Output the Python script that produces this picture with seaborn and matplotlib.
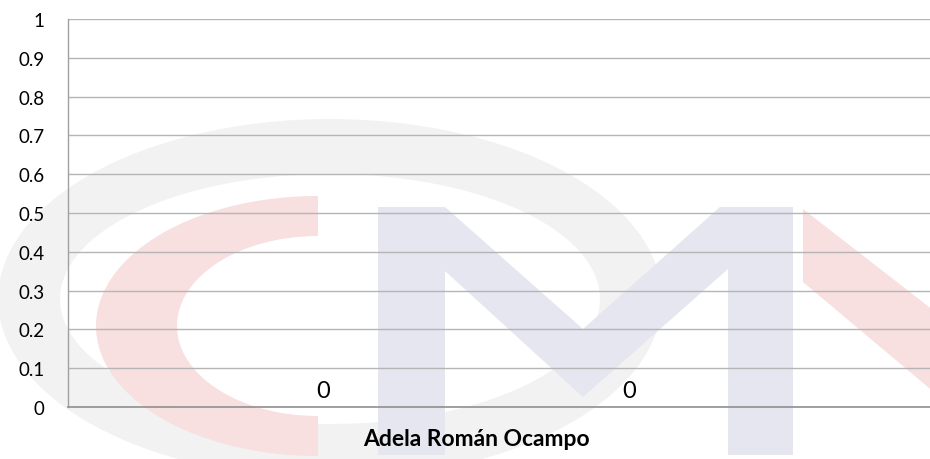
import numpy as np
import pandas as pd
import matplotlib
matplotlib.use("Agg")
import matplotlib.pyplot as plt
from matplotlib.patches import Polygon
import seaborn as sns

# datos de la grafica
candidatos = ["Adela Román Ocampo"]
series = ["Serie 1", "Serie 2"]
valores = [0, 0]
yticks = [0, 0.1, 0.2, 0.3, 0.4, 0.5, 0.6, 0.7, 0.8, 0.9, 1]

df = pd.DataFrame({
    "candidato": candidatos * len(series),
    "serie": series,
    "votos": valores,
})

sns.set_theme(style="whitegrid")
plt.rcParams['font.family'] = ['Lato', 'DejaVu Sans']

fig = plt.figure(figsize=(9.3, 4.6), dpi=100)
fig.patch.set_facecolor("white")


# marca de agua (logo CM) en coordenadas de pixel
def anillo(cx, cy, a1, b1, a2, b2, t0, t1):
    t = np.radians(np.linspace(t0, t1, 120))
    ext = np.column_stack([cx + a1 * np.cos(t), cy - b1 * np.sin(t)])
    intr = np.column_stack([cx + a2 * np.cos(t[::-1]), cy - b2 * np.sin(t[::-1])])
    return np.vstack([ext, intr])

bg = fig.add_axes([0, 0, 1, 1], zorder=0)
bg.set_xlim(0, 930)
bg.set_ylim(460, 0)
bg.axis("off")
bg.add_patch(Polygon(anillo(330, 300, 332, 180, 270, 125, 0, 360), closed=True,
                     facecolor="#f2f2f2", edgecolor="none"))
bg.add_patch(Polygon(anillo(318, 327, 222, 130, 141, 90, 90, 270), closed=True,
                     facecolor="#f8dfe0", edgecolor="none"))
m_pts = [(378, 456), (378, 208), (445, 208), (583, 330), (720, 208), (793, 208),
         (793, 456), (728, 456), (728, 270), (583, 398), (445, 272), (445, 456)]
bg.add_patch(Polygon(m_pts, closed=True, facecolor="#e5e6ef", edgecolor="none"))
bg.add_patch(Polygon([(803, 210), (803, 283), (960, 415), (960, 332)], closed=True,
                     facecolor="#f8dfe0", edgecolor="none"))

ax = fig.add_axes([68 / 930, 1 - 408 / 460, 1 - 68 / 930, (408 - 20) / 460], zorder=1)
ax.set_facecolor("none")

sns.barplot(data=df, x="candidato", y="votos", hue="serie", width=0.75,
            palette=["#4472c4", "#ed7d31"], legend=False, ax=ax)

for cont in ax.containers:
    ax.bar_label(cont, labels=["0"], padding=4, fontsize=17, color="black")

ax.set_ylim(0, 1)
ax.set_xlim(-0.5, 0.5564)
ax.set_yticks(yticks)
ax.set_yticklabels([f"{v:g}" for v in yticks])
ax.tick_params(axis="y", length=0, pad=17, labelsize=13.5, labelcolor="black")
ax.tick_params(axis="x", length=0, pad=15, labelsize=16.5, labelcolor="black")
for lbl in ax.get_xticklabels():
    lbl.set_fontweight("bold")
ax.set_xlabel("")
ax.set_ylabel("")
ax.grid(axis="y", color="#b5b5b5", linewidth=1)
ax.grid(axis="x", visible=False)
for s in ["top", "right"]:
    ax.spines[s].set_visible(False)
ax.spines["left"].set_color("#a0a0a0")
ax.spines["bottom"].set_color("#909090")
ax.spines["left"].set_linewidth(1)
ax.spines["bottom"].set_linewidth(1.2)

fig.savefig("out.png", dpi=100)
